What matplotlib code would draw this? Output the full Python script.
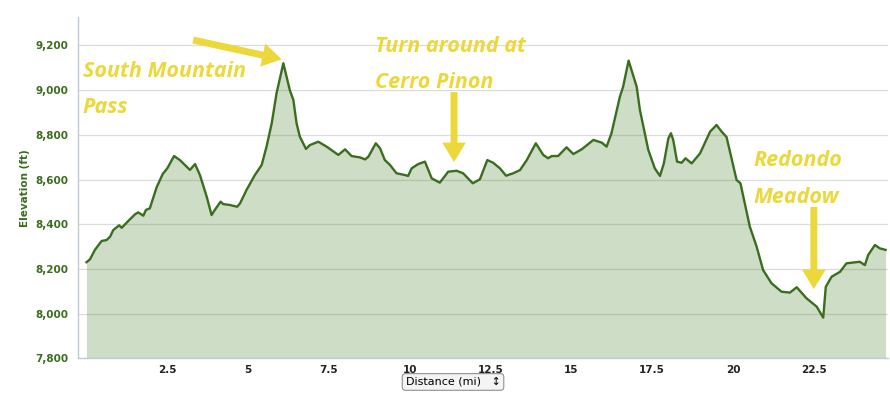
import matplotlib.pyplot as plt
from matplotlib.ticker import FuncFormatter

# elevation profile (miles, feet)
dist = [0.0, 0.11, 0.26, 0.47, 0.62, 0.73, 0.83, 1.01, 1.09, 1.29, 1.50, 1.60, 1.76, 1.84, 1.96,
        2.17, 2.36, 2.50, 2.71, 2.89, 3.20, 3.36, 3.51, 3.72, 3.87, 3.97, 4.15, 4.23, 4.44, 4.66,
        4.75, 4.95, 5.21, 5.42, 5.57, 5.73, 5.88, 6.09, 6.29, 6.40, 6.50, 6.60, 6.79, 6.91, 7.17,
        7.43, 7.79, 8.00, 8.20, 8.46, 8.62, 8.72, 8.95, 9.08, 9.23, 9.39, 9.59, 9.85, 9.95, 10.06,
        10.26, 10.47, 10.68, 10.93, 11.19, 11.45, 11.65, 11.95, 12.17, 12.40, 12.58, 12.79, 12.98,
        13.20, 13.41, 13.62, 13.90, 14.13, 14.28, 14.39, 14.59, 14.85, 15.06, 15.32, 15.68, 15.94,
        16.09, 16.24, 16.50, 16.60, 16.77, 17.02, 17.12, 17.38, 17.58, 17.74, 17.86, 18.00, 18.08,
        18.15, 18.27, 18.41, 18.53, 18.72, 18.98, 19.29, 19.49, 19.65, 19.80, 20.11, 20.23, 20.52,
        20.73, 20.93, 21.19, 21.50, 21.76, 21.97, 22.27, 22.59, 22.79, 22.87, 23.05, 23.31, 23.51,
        23.92, 24.08, 24.18, 24.39, 24.54, 24.72]
elev = [8230, 8243, 8285, 8325, 8329, 8344, 8374, 8395, 8384, 8414, 8444, 8453, 8438, 8464, 8471,
        8565, 8625, 8650, 8705, 8687, 8643, 8669, 8620, 8523, 8441, 8464, 8501, 8490, 8486, 8478,
        8493, 8553, 8620, 8665, 8747, 8851, 8986, 9120, 9000, 8956, 8851, 8792, 8737, 8754, 8769,
        8747, 8710, 8735, 8705, 8699, 8690, 8702, 8762, 8740, 8687, 8665, 8628, 8620, 8616, 8650,
        8669, 8680, 8605, 8586, 8635, 8639, 8628, 8583, 8601, 8687, 8675, 8650, 8617,
        8628, 8642, 8687, 8762, 8710, 8695, 8705, 8705, 8744, 8714, 8735, 8777, 8765,
        8747, 8807, 8970, 9015, 9132, 9015, 8911, 8732, 8650, 8616, 8672, 8784, 8807,
        8777, 8680, 8675, 8695, 8672, 8717, 8814, 8844, 8814, 8790, 8598, 8583, 8389,
        8300, 8195, 8136, 8098, 8094, 8118, 8069, 8031, 7982, 8120, 8165, 8187, 8225,
        8232, 8217, 8262, 8307, 8292, 8285]

xticks = [0, 2.5, 5, 7.5, 10, 12.5, 15, 17.5, 20, 22.5]
xlabels = ['', '2.5', '5', '7.5', '10', '12.5', '15', '17.5', '20', '22.5']
yticks = [7800, 8000, 8200, 8400, 8600, 8800, 9000, 9200]

green = '#3a6e1e'
fillc = '#3f7a1a'
yellow = '#ecd83a'
axcol = '#c0cad8'

fig = plt.figure(figsize=(8.9, 3.95), dpi=100)
ax = fig.add_axes([0.0876, 0.0929, 0.91, 0.864])

ax.fill_between(dist, elev, 7800, color=fillc, alpha=0.25, lw=0)
ax.plot(dist, elev, color=green, lw=1.7, solid_joinstyle='round')

ax.set_xlim(-0.263, 24.79)
ax.set_ylim(7800, 9327)
ax.set_xticks(xticks)
ax.set_xticklabels(xlabels, fontsize=7.5, fontweight='bold', color='#222222')
ax.set_yticks(yticks)
ax.yaxis.set_major_formatter(FuncFormatter(lambda v, p: f'{int(v):,}'))
for t in ax.get_yticklabels():
    t.set_fontsize(7.5)
    t.set_fontweight('bold')
    t.set_color(green)
ax.tick_params(axis='both', length=0, pad=7)
ax.tick_params(axis='x', pad=5)
ax.grid(axis='y', color='#dcdcdc', lw=0.9)
ax.set_axisbelow(True)
for s in ['top', 'right']:
    ax.spines[s].set_visible(False)
for s in ['left', 'bottom']:
    ax.spines[s].set_color(axcol)
    ax.spines[s].set_linewidth(1)

ax.set_ylabel('Elevation (ft)', fontsize=7.5, fontweight='bold', color=green, labelpad=4)

fig.text(0.509, 0.033, 'Distance (mi)   \u2195', fontsize=8, ha='center', va='center',
         bbox=dict(boxstyle='round,pad=0.3', fc='#f4f4f4', ec='#909090', lw=0.8))

# annotations
afont = dict(family=['Open Sans', 'DejaVu Sans'], fontsize=15.5, fontweight='bold', style='italic',
             color=yellow, va='baseline', ha='left')
ax.text(-0.11, 9059, 'South Mountain', **afont)
ax.text(-0.11, 8897, 'Pass', **afont)
ax.text(8.92, 9172, 'Turn around at', clip_on=False, **afont)
ax.text(8.92, 9011, 'Cerro Pinon', **afont)
ax.text(20.62, 8660, 'Redondo', **afont)
ax.text(20.62, 8496, 'Meadow', **afont)

aprops = dict(width=5, headwidth=17, headlength=14, facecolor=yellow, edgecolor='none', shrink=0)
ax.annotate('', xy=(6.04, 9138), xytext=(3.30, 9224), arrowprops=aprops, annotation_clip=False)
ax.annotate('', xy=(11.37, 8678), xytext=(11.37, 8991), arrowprops=aprops)
ax.annotate('', xy=(22.50, 8110), xytext=(22.50, 8477), arrowprops=aprops)

fig.savefig('out.png', dpi=100)
